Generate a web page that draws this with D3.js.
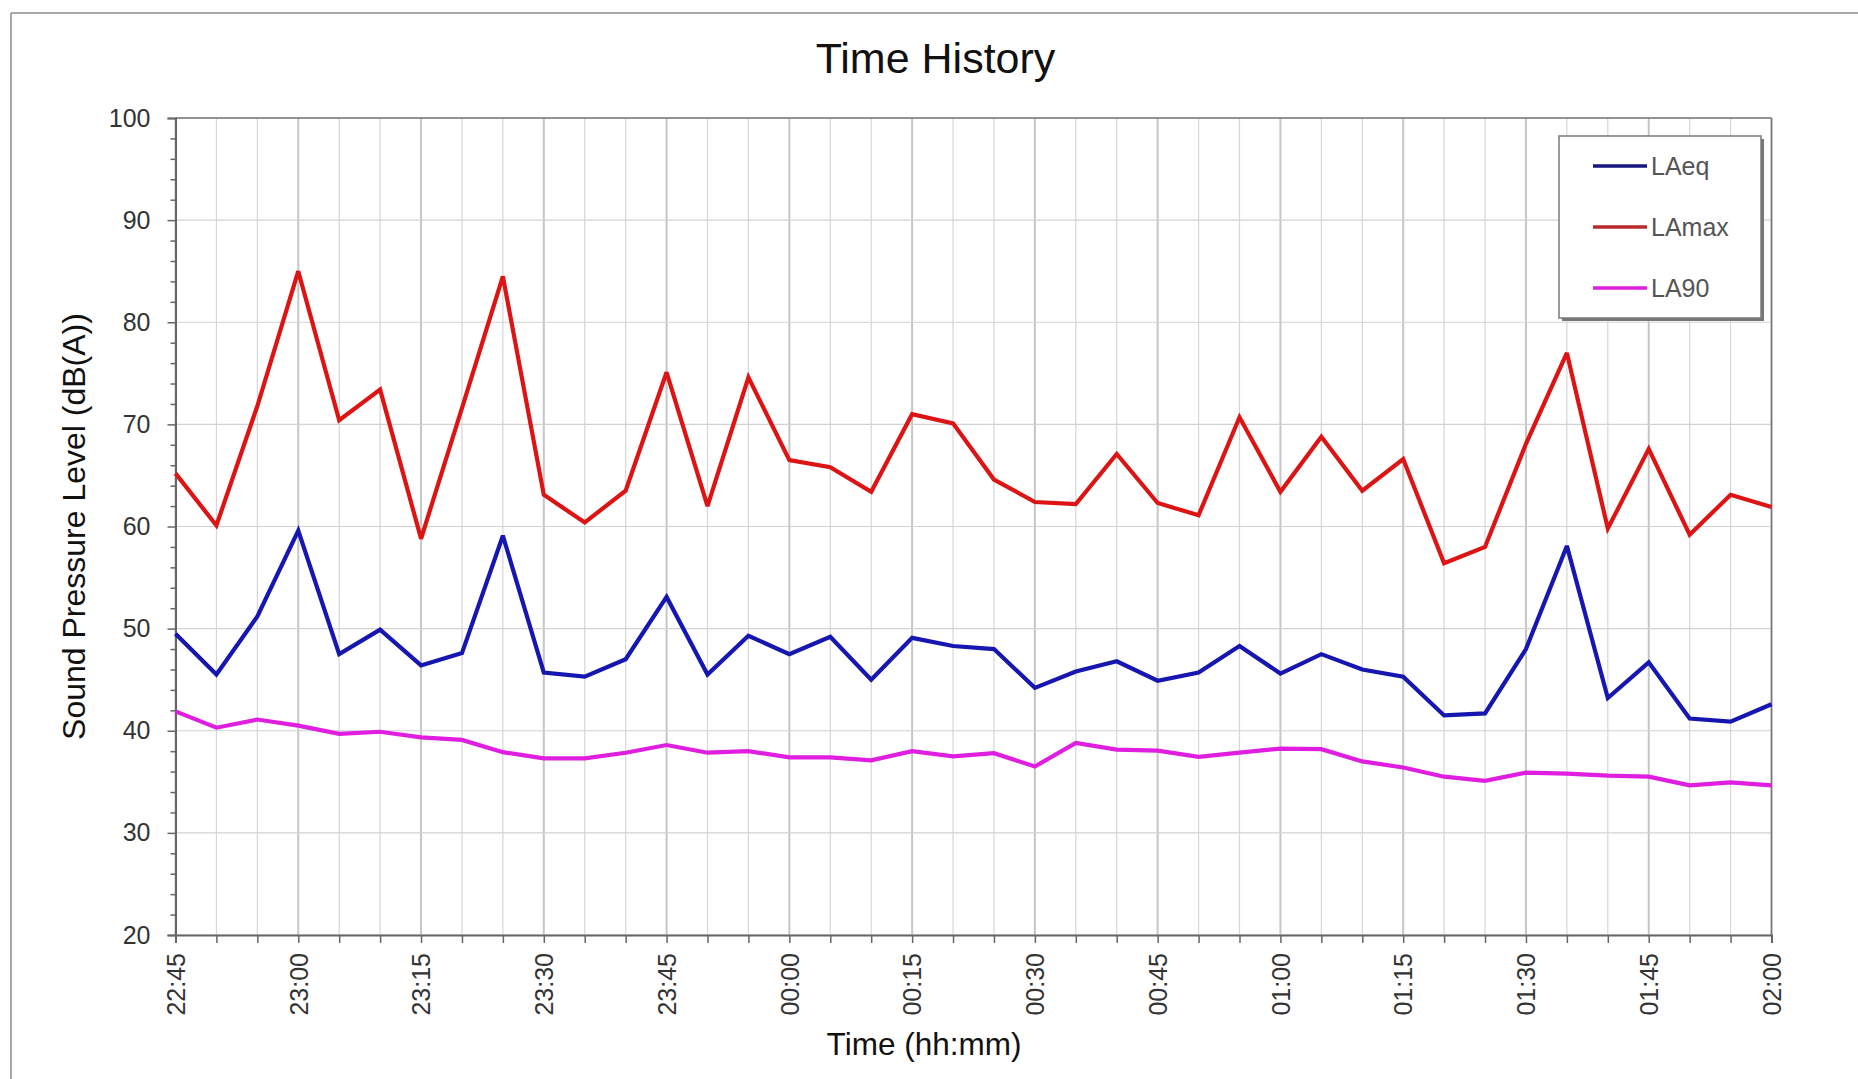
<!DOCTYPE html>
<html>
<head>
<meta charset="utf-8">
<script src="https://cdn.jsdelivr.net/npm/d3@7"></script>
<style>
  html, body { margin: 0; padding: 0; background: #ffffff; }
  svg { display: block; font-family: "Liberation Sans", Arial, Helvetica, sans-serif; }
</style>
</head>
<body>
<svg id="chart" width="1858" height="1079"></svg>
<script>
// ---------------- data ----------------
const times = ["22:45","22:50","22:55","23:00","23:05","23:10","23:15","23:20","23:25","23:30",
               "23:35","23:40","23:45","23:50","23:55","00:00","00:05","00:10","00:15","00:20",
               "00:25","00:30","00:35","00:40","00:45","00:50","00:55","01:00","01:05","01:10",
               "01:15","01:20","01:25","01:30","01:35","01:40","01:45","01:50","01:55","02:00"];

const laeq  = [49.5,45.5,51.2,59.6,47.5,49.9,46.4,47.6,59.1,45.7,
               45.3,47.0,53.1,45.5,49.3,47.5,49.2,45.0,49.1,48.3,
               48.0,44.2,45.8,46.8,44.9,45.7,48.3,45.6,47.5,46.0,
               45.3,41.5,41.7,48.0,58.1,43.2,46.7,41.2,40.9,42.6];

const lamax = [65.2,60.1,71.8,85.0,70.4,73.4,58.8,71.6,84.5,63.1,
               60.4,63.5,75.1,62.0,74.6,66.5,65.8,63.4,71.0,70.1,
               64.6,62.4,62.2,67.1,62.3,61.1,70.7,63.4,68.8,63.5,
               66.6,56.4,58.0,68.1,77.0,59.8,67.6,59.2,63.1,61.9];

const la90  = [41.9,40.3,41.1,40.5,39.7,39.9,39.35,39.1,37.9,37.3,
               37.3,37.85,38.6,37.85,38.0,37.4,37.4,37.1,38.0,37.5,
               37.8,36.5,38.8,38.15,38.05,37.45,37.85,38.25,38.2,37.0,
               36.4,35.5,35.1,35.9,35.8,35.6,35.5,34.65,34.95,34.65];

const xTickLabels = ["22:45","23:00","23:15","23:30","23:45","00:00","00:15",
                     "00:30","00:45","01:00","01:15","01:30","01:45","02:00"];
const yTicks = [20,30,40,50,60,70,80,90,100];
const yMinorTicks = d3.range(20, 101, 2);

const seriesNames  = ["LAeq","LAmax","LA90"];
const seriesColors = ["#1616b0","#dd1414","#e01ee0"];
const legendColors = ["#161680","#b82a2a","#e01ee0"];
const seriesData   = [laeq, lamax, la90];

const titleText = "Time History";
const xTitle = "Time (hh:mm)";
const yTitle = "Sound Pressure Level (dB(A))";

// ---------------- layout ----------------
const svg = d3.select("#chart");
const L = 175.5, R = 1771.5, T = 118, B = 935;

const x = d3.scalePoint().domain(times).range([L, R]);
const y = d3.scaleLinear().domain([20, 100]).range([B, T]);

// outer frame (left & top edges visible)
svg.append("line").attr("x1", 11).attr("x2", 11).attr("y1", 13).attr("y2", 1079)
   .attr("stroke", "#8a8a8a").attr("stroke-width", 1.5);
svg.append("line").attr("x1", 11).attr("x2", 1858).attr("y1", 13).attr("y2", 13)
   .attr("stroke", "#8a8a8a").attr("stroke-width", 1.5);

// gridlines
const grid = svg.append("g");
grid.selectAll("line.v").data(times).join("line")
  .attr("class", "v")
  .attr("x1", d => x(d)).attr("x2", d => x(d))
  .attr("y1", T).attr("y2", B)
  .attr("stroke", d => xTickLabels.includes(d) ? "#c6c6c6" : "#d6d6d6")
  .attr("stroke-width", d => xTickLabels.includes(d) ? 2 : 1.2);
grid.selectAll("line.h").data(yTicks).join("line")
  .attr("class", "h")
  .attr("x1", L).attr("x2", R)
  .attr("y1", d => y(d)).attr("y2", d => y(d))
  .attr("stroke", "#d2d2d2").attr("stroke-width", 1.2);

// plot frame top & right
svg.append("line").attr("x1", L).attr("x2", R).attr("y1", T).attr("y2", T)
   .attr("stroke", "#777").attr("stroke-width", 1.5);
svg.append("line").attr("x1", R).attr("x2", R).attr("y1", T).attr("y2", B)
   .attr("stroke", "#777").attr("stroke-width", 1.5);

// x axis
const xAxis = d3.axisBottom(x)
  .tickValues(times)
  .tickSize(8)
  .tickPadding(10)
  .tickFormat(d => xTickLabels.includes(d) ? d : "");
const gx = svg.append("g").attr("transform", `translate(0,${B})`).call(xAxis);
gx.select(".domain").attr("stroke", "#666").attr("stroke-width", 2);
gx.selectAll(".tick line").attr("stroke", "#666").attr("stroke-width", 1.5);
gx.selectAll(".tick text")
  .attr("font-size", 25).attr("fill", "#333")
  .attr("text-anchor", "end")
  .attr("transform", "rotate(-90)")
  .attr("x", -18).attr("y", 0).attr("dy", "0.35em");

// y axis major
const yAxis = d3.axisLeft(y).tickValues(yTicks).tickSize(8).tickPadding(17).tickFormat(d3.format("d"));
const gy = svg.append("g").attr("transform", `translate(${L},0)`).call(yAxis);
gy.select(".domain").attr("stroke", "#666").attr("stroke-width", 2);
gy.selectAll(".tick line").attr("stroke", "#666").attr("stroke-width", 1.5);
gy.selectAll(".tick text").attr("font-size", 25).attr("fill", "#333");

// y axis minor
const yMinor = d3.axisLeft(y).tickValues(yMinorTicks.filter(v => v % 10 !== 0)).tickSize(5).tickFormat("");
const gym = svg.append("g").attr("transform", `translate(${L},0)`).call(yMinor);
gym.select(".domain").remove();
gym.selectAll(".tick line").attr("stroke", "#666").attr("stroke-width", 1.5);

// series lines
const line = d3.line().x((d, i) => x(times[i])).y(d => y(d));
const gLines = svg.append("g");
seriesData.forEach((data, k) => {
  gLines.append("path")
    .datum(data)
    .attr("d", line)
    .attr("fill", "none")
    .attr("stroke", seriesColors[k])
    .attr("stroke-width", 4.2)
    .attr("stroke-linejoin", "miter")
    .attr("stroke-miterlimit", 3);
});

// titles
svg.append("text").attr("x", 935.5).attr("y", 73)
  .attr("text-anchor", "middle").attr("font-size", 43).attr("fill", "#111")
  .text(titleText);
svg.append("text").attr("x", 924).attr("y", 1055)
  .attr("text-anchor", "middle").attr("font-size", 31.5).attr("fill", "#111")
  .text(xTitle);
svg.append("text")
  .attr("transform", `translate(85,${(T + B) / 2}) rotate(-90)`)
  .attr("text-anchor", "middle").attr("font-size", 32).attr("fill", "#111")
  .text(yTitle);

// legend
const lg = svg.append("g");
const lgX = 1559, lgY = 136, lgW = 202, lgH = 182;
lg.append("rect").attr("x", lgX + 3).attr("y", lgY + 3).attr("width", lgW).attr("height", lgH)
  .attr("fill", "#777");
lg.append("rect").attr("x", lgX).attr("y", lgY).attr("width", lgW).attr("height", lgH)
  .attr("fill", "#fff").attr("stroke", "#7a7a7a").attr("stroke-width", 1.5);
const legendY = d3.scalePoint().domain(seriesNames).range([166, 288]);
seriesNames.forEach((name, k) => {
  const yy = legendY(name);
  lg.append("line").attr("x1", 1593).attr("x2", 1647).attr("y1", yy).attr("y2", yy)
    .attr("stroke", legendColors[k]).attr("stroke-width", 3.5);
  lg.append("text").attr("x", 1651).attr("y", yy).attr("dy", "0.35em")
    .attr("font-size", 25).attr("fill", "#555").text(name);
});
</script>
</body>
</html>
